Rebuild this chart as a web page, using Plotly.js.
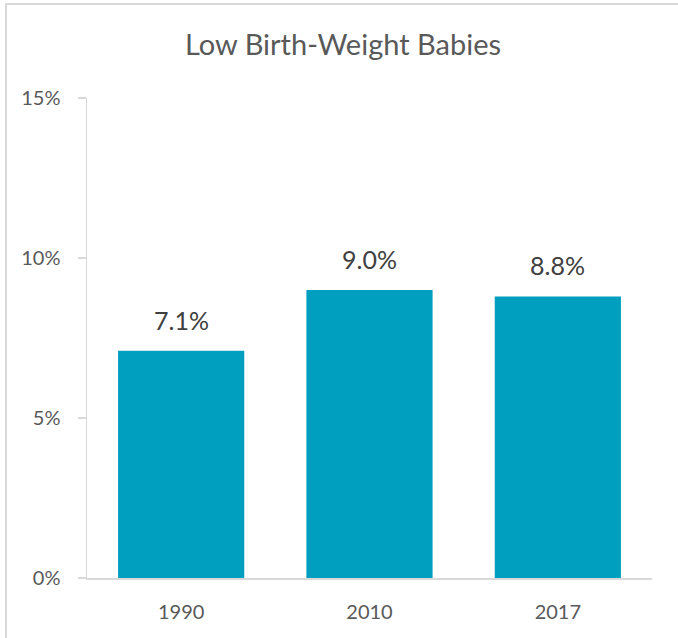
<!DOCTYPE html>
<html>
<head>
<meta charset="utf-8">
<script src="https://cdn.plot.ly/plotly-3.0.1.min.js"></script>
<style>html,body{margin:0;padding:0;background:#fff;}#chart{width:678px;height:638px;}</style>
</head>
<body>
<div id="chart"></div>
<script>
const categories = ["1990", "2010", "2017"];
const values = [7.1, 9.0, 8.8];
const labels = ["7.1%", "9.0%", "8.8%"];
const yTicks = [0, 5, 10, 15];
const yTickLabels = ["0%", "5%", "10%", "15%"];

const FONT = "Lato, 'Open Sans', sans-serif";
const L = 87, R = 26, T = 98, B = 60;
const PW = 678 - L - R, PH = 638 - T - B;

const trace = {
  type: "bar",
  x: categories,
  y: values,
  marker: {color: "#009EBF"},
  width: 0.67,
  hoverinfo: "none"
};

// category axes take the category index for annotation positions
const annotations = categories.map((c, i) => ({
  x: i, y: values[i], text: labels[i],
  xref: "x", yref: "y", showarrow: false,
  yanchor: "bottom", yshift: 14,
  font: {family: FONT, size: 25, color: "#404040"}
}));

const layout = {
  width: 678, height: 638,
  margin: {l: L, r: R, t: T, b: B, pad: 0},
  paper_bgcolor: "#fff", plot_bgcolor: "#fff",
  showlegend: false,
  title: {text: "Low Birth-Weight Babies", x: 343/678, xref: "container", xanchor: "center",
          y: 1 - 45/638, yref: "container", yanchor: "middle",
          font: {family: FONT, size: 29, color: "#595959"}},
  xaxis: {type: "category", showgrid: false, zeroline: false,
          range: [-0.5, 2.5],
          showline: true, linecolor: "#d9d9d9", linewidth: 1.5,
          ticks: "outside", ticklen: 15, tickcolor: "rgba(0,0,0,0)",
          tickfont: {family: FONT, size: 20, color: "#595959"}},
  yaxis: {range: [0, 15], tickvals: yTicks, ticktext: yTickLabels,
          showgrid: false, zeroline: false,
          showline: true, linecolor: "#d9d9d9", linewidth: 1.5,
          ticks: "outside", ticklen: 8, tickcolor: "#d9d9d9", tickwidth: 1.5,
          ticklabelstandoff: 13,
          tickfont: {family: FONT, size: 20, color: "#595959"}},
  yaxis2: {overlaying: "y", anchor: "x", side: "left", range: [0, 15], tickvals: yTicks,
          showgrid: false, zeroline: false, showline: false, showticklabels: false,
          ticks: "inside", ticklen: 8, tickcolor: "#d9d9d9", tickwidth: 1.5},
  annotations: annotations,
  shapes: [
    {type: "line", xref: "paper", yref: "paper", x0: (5 - L)/PW, x1: 1 + R/PW, y0: 1 + 94/PH, y1: 1 + 94/PH,
     line: {color: "#d9d9d9", width: 2}},
    {type: "line", xref: "paper", yref: "paper", x0: (6 - L)/PW, x1: (6 - L)/PW, y0: 1 + 94/PH, y1: -B/PH,
     line: {color: "#d9d9d9", width: 2}}
  ]
};

Plotly.newPlot("chart", [trace], layout, {displayModeBar: false, staticPlot: true});
</script>
</body>
</html>
